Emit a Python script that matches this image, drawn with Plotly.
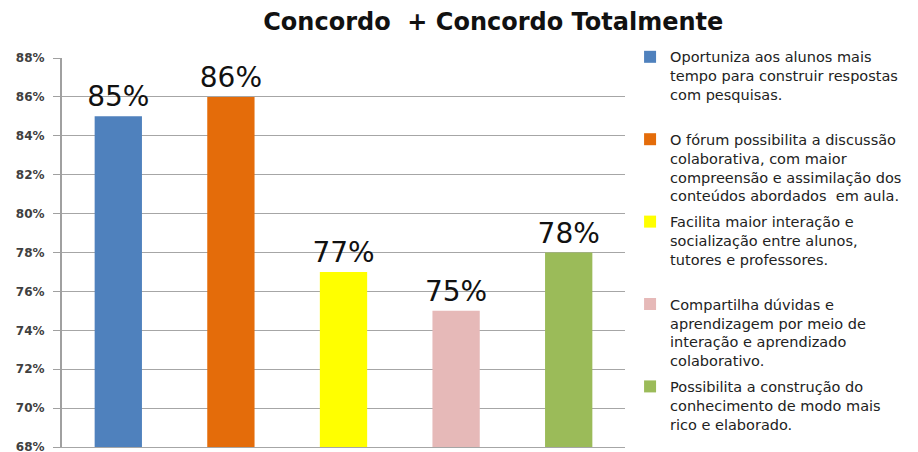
import plotly.graph_objects as go

title_text = "Concordo  + Concordo Totalmente"
categories = ["c1", "c2", "c3", "c4", "c5"]
values = [85, 86, 77, 75, 78]
series_names = [
    "Oportuniza aos alunos mais<br>tempo para construir respostas<br>com pesquisas.<br> ",
    "O fórum possibilita a discussão<br>colaborativa, com maior<br>compreensão e assimilação dos<br>conteúdos abordados  em aula.",
    "Facilita maior interação e<br>socialização entre alunos,<br>tutores e professores.<br> ",
    "Compartilha dúvidas e<br>aprendizagem por meio de<br>interação e aprendizado<br>colaborativo.",
    "Possibilita a construção do<br>conhecimento de modo mais<br>rico e elaborado.<br> ",
]
colors = ["#4F81BD", "#E46C0A", "#FFFF00", "#E6B9B8", "#9BBB59"]
y_range = [68, 88]
y_dtick = 2

fig = go.Figure()
for i, (cat, val, name, col) in enumerate(zip(categories, values, series_names, colors)):
    fig.add_trace(go.Bar(
        x=[cat], y=[val], name=name, marker=dict(color=col, line=dict(width=0)),
        legendgroup=f"g{i}",
        texttemplate="%{y:.0f}%", textposition="outside", cliponaxis=False,
        constraintext="none",
        textfont=dict(family="DejaVu Sans", size=28, color="#111111"),
    ))

# page has an 8px body margin, so the figure is drawn 8px smaller
fig.update_layout(
    width=910, height=444,
    margin=dict(l=54, r=293, t=50, b=5, autoexpand=False),
    paper_bgcolor="white", plot_bgcolor="white",
    barmode="overlay", bargap=0.58,
    title=dict(text=f"<b>{title_text}</b>", x=0.766, xref="paper", xanchor="center",
               y=1 - 14 / 444, yanchor="middle",
               font=dict(family="DejaVu Sans", size=24, color="#111111")),
    showlegend=True,
    legend=dict(x=1.009, xanchor="left", y=1.044, yanchor="top", xref="paper",
                valign="top", tracegroupgap=4, maxheight=430,
                font=dict(family="DejaVu Sans", size=14.5, color="#222222"),
                bgcolor="rgba(0,0,0,0)"),
    xaxis=dict(showticklabels=False, showgrid=False, ticks="", showline=True,
               linecolor="#A6A6A6", linewidth=1, zeroline=False),
    yaxis=dict(range=y_range, dtick=y_dtick, ticksuffix="%", showgrid=True,
               gridcolor="#A6A6A6", gridwidth=1, showline=True, linecolor="#A0A0A0",
               linewidth=2, ticks="outside", ticklen=7, tickcolor="#A0A0A0",
               zeroline=False, ticklabeloverflow="allow", ticklabelstandoff=6,
               tickfont=dict(family="DejaVu Sans", size=12, color="#404040",
                             weight="bold")),
)

fig.write_html("out.html")
